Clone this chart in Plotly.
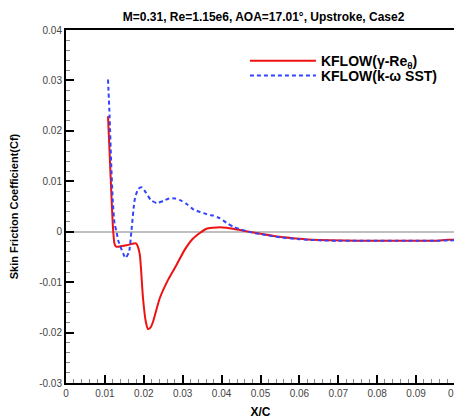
import plotly.graph_objects as go

# Data
x_gamma = [0.0108, 0.0113, 0.0117, 0.0121, 0.0125, 0.0130, 0.0140, 0.0155, 0.0170, 0.0180,
           0.0185, 0.0190, 0.0198, 0.0205, 0.0211, 0.0218, 0.0224, 0.0241, 0.0262, 0.0284,
           0.0305, 0.0326, 0.0345, 0.0361, 0.0378, 0.0395, 0.0412, 0.0430, 0.0450, 0.0470,
           0.0500, 0.0549, 0.0600, 0.0634, 0.0680, 0.0750, 0.0800, 0.0850, 0.0900, 0.0950,
           0.0980, 0.1000]
cf_gamma = [0.0229, 0.0140, 0.0068, 0.0005, -0.0025, -0.0030, -0.0029, -0.0027, -0.0024, -0.0023,
            -0.0030, -0.0047, -0.0132, -0.0178, -0.0193, -0.0189, -0.0178, -0.0132, -0.0096, -0.0066,
            -0.0036, -0.0014, -0.0002, 0.0006, 0.0008, 0.0009, 0.0008, 0.0006, 0.0003, 0.0000,
            -0.0004, -0.0010, -0.0014, -0.0016, -0.0017, -0.0018, -0.0018, -0.0018, -0.0018, -0.0018,
            -0.0016, -0.0016]

x_sst = [0.0108, 0.0112, 0.0116, 0.0120, 0.0125, 0.0130, 0.0134, 0.0147, 0.0153, 0.0162,
         0.0168, 0.0177, 0.0186, 0.0194, 0.0205, 0.0218, 0.0233, 0.0250, 0.0265, 0.0280,
         0.0295, 0.0310, 0.0326, 0.0345, 0.0361, 0.0378, 0.0395, 0.0412, 0.0430, 0.0455,
         0.0480, 0.0510, 0.0550, 0.0600, 0.0650, 0.0700, 0.0750, 0.0800, 0.0850, 0.0900,
         0.0950, 0.1000]
cf_sst = [0.0302, 0.0230, 0.0140, 0.0065, 0.0015, 0.0000, -0.0017, -0.0043, -0.0052, -0.0040,
          0.0000, 0.0065, 0.0085, 0.0088, 0.0078, 0.0063, 0.0057, 0.0061, 0.0066, 0.0066,
          0.0062, 0.0055, 0.0045, 0.0039, 0.0035, 0.0032, 0.0027, 0.0018, 0.0010, 0.0003,
          -0.0002, -0.0006, -0.0011, -0.0015, -0.0017, -0.0018, -0.0018, -0.0018, -0.0018, -0.0018,
          -0.0018, -0.0017]

x_ticks = [0, 0.01, 0.02, 0.03, 0.04, 0.05, 0.06, 0.07, 0.08, 0.09, 0.1]
x_tick_labels = ["0", "0.01", "0.02", "0.03", "0.04", "0.05", "0.06", "0.07", "0.08", "0.09", "0.1"]
y_ticks = [-0.03, -0.02, -0.01, 0, 0.01, 0.02, 0.03, 0.04]
y_tick_labels = ["-0.03", "-0.02", "-0.01", "0", "0.01", "0.02", "0.03", "0.04"]

FONT = "Liberation Sans, Arial, sans-serif"

fig = go.Figure()
fig.add_trace(go.Scatter(
    x=x_gamma, y=cf_gamma, mode="lines", name="<b>KFLOW(γ-Re<sub>θ</sub>)</b>",
    legend="legend",
    line=dict(color="#ee1111", width=2, shape="spline", smoothing=0.6)))
fig.add_trace(go.Scatter(
    x=x_sst, y=cf_sst, mode="lines", name="<b>KFLOW(k-ω SST)</b>",
    legend="legend2",
    line=dict(color="#3344ff", width=2, dash="4px,3px", shape="spline", smoothing=0.6)))

axis_common = dict(
    showline=True, linecolor="black", linewidth=2, mirror=True,
    ticks="inside", ticklen=8, tickwidth=2, tickcolor="black",
    showgrid=False, automargin=False, ticklabeloverflow="allow",
    tickfont=dict(family=FONT, size=10, color="#444444"),
)

fig.update_xaxes(
    range=[0, 0.1], tickvals=x_ticks, ticktext=x_tick_labels,
    minor=dict(dtick=0.002, ticks="inside", ticklen=4, tickcolor="#888888", tickwidth=1),
    zeroline=False,
    title=dict(text="<b>X/C</b>", font=dict(family=FONT, size=12, color="black"), standoff=10),
    **axis_common)
fig.update_yaxes(
    range=[-0.03, 0.04], tickvals=y_ticks, ticktext=y_tick_labels,
    minor=dict(dtick=0.002, ticks="inside", ticklen=4, tickcolor="#888888", tickwidth=1),
    zeroline=True, zerolinecolor="#c0c0c0", zerolinewidth=2,
    title=dict(text="<b>Skin Friction Coefficient(Cf)</b>", font=dict(family=FONT, size=11, color="black"), standoff=22),
    **axis_common)

legend_common = dict(xanchor="left", yanchor="middle", bgcolor="rgba(0,0,0,0)", borderwidth=0,
                     font=dict(family=FONT, size=14, color="black"), itemwidth=66)

# page has an 8px body margin, so the figure is 8px smaller and shifted
fig.update_layout(
    width=454, height=411,
    margin=dict(l=58, r=7, t=22, b=36),
    paper_bgcolor="white", plot_bgcolor="white",
    title=dict(text="<b>M=0.31, Re=1.15e6, AOA=17.01°, Upstroke, Case2</b>",
               font=dict(family=FONT, size=12, color="black"),
               x=0.563, xanchor="center", y=0.978, yanchor="middle"),
    legend=dict(x=0.46, y=0.912, **legend_common),
    legend2=dict(x=0.46, y=0.870, **legend_common),
    showlegend=True,
)

fig.write_html("out.html")
